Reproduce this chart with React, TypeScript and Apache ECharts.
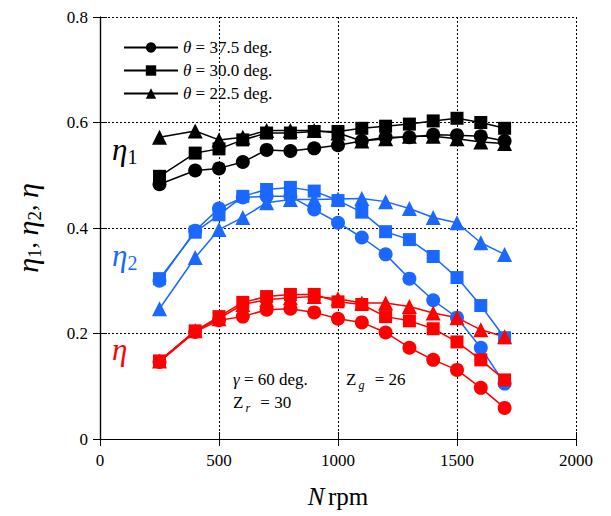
import React, { useEffect, useRef } from "react";
import * as echarts from "echarts";

const rpm = [250, 400, 500, 600, 700, 800, 900, 1000, 1100, 1200, 1300, 1400, 1500, 1600, 1700];
const angles = ["37.5", "30.0", "22.5"];

// eta1 (black)
const eta1_375 = [0.483, 0.509, 0.513, 0.525, 0.548, 0.546, 0.551, 0.557, 0.565, 0.572, 0.572, 0.577, 0.576, 0.574, 0.565];
const eta1_300 = [0.498, 0.542, 0.55, 0.567, 0.58, 0.58, 0.583, 0.583, 0.589, 0.593, 0.597, 0.603, 0.608, 0.6, 0.589];
const eta1_225 = [0.572, 0.584, 0.567, 0.572, 0.585, 0.585, 0.585, 0.58, 0.565, 0.569, 0.574, 0.574, 0.569, 0.563, 0.56];

// eta2 (blue)
const eta2_375 = [0.3, 0.395, 0.437, 0.458, 0.46, 0.46, 0.435, 0.41, 0.382, 0.35, 0.304, 0.263, 0.23, 0.173, 0.105];
const eta2_300 = [0.304, 0.392, 0.425, 0.46, 0.473, 0.477, 0.47, 0.452, 0.43, 0.393, 0.378, 0.346, 0.306, 0.253, 0.192];
const eta2_225 = [0.247, 0.344, 0.397, 0.42, 0.448, 0.454, 0.454, 0.455, 0.456, 0.45, 0.437, 0.42, 0.41, 0.372, 0.35];

// eta (red)
const eta_375 = [0.146, 0.203, 0.225, 0.232, 0.245, 0.247, 0.24, 0.228, 0.221, 0.202, 0.173, 0.15, 0.131, 0.097, 0.059];
const eta_300 = [0.148, 0.205, 0.232, 0.259, 0.27, 0.274, 0.274, 0.26, 0.255, 0.232, 0.224, 0.209, 0.184, 0.15, 0.112];
const eta_225 = [0.148, 0.205, 0.228, 0.255, 0.264, 0.268, 0.27, 0.266, 0.258, 0.258, 0.251, 0.239, 0.23, 0.207, 0.194];

const FONT = "'Liberation Serif', 'Times New Roman', serif";
const BLACK = "#000000";
const BLUE = "#1a68ff";
const RED = "#ff0000";
const symbols = ["circle", "rect", "triangle"];
const symbolSizes = [14, 13, 15];

const App = () => {
  const ref = useRef<HTMLDivElement>(null);

  useEffect(() => {
    document.body.style.margin = "0";
    const chart = echarts.init(ref.current, null, { renderer: "svg" });

    const mk = (name: string, vals: number[], color: string, i: number) => ({
      name,
      type: "line",
      data: rpm.map((x, k) => [x, vals[k]]),
      symbol: symbols[i],
      symbolSize: symbolSizes[i],
      showSymbol: true,
      lineStyle: { color, width: 1.5 },
      itemStyle: { color },
      z: 3
    });

    const groups = [
      { vals: [eta1_375, eta1_300, eta1_225], color: BLACK, prefix: "" },
      { vals: [eta2_375, eta2_300, eta2_225], color: BLUE, prefix: "b" },
      { vals: [eta_375, eta_300, eta_225], color: RED, prefix: "r" }
    ];
    const series: any[] = [];
    groups.forEach(g => {
      g.vals.forEach((v, i) => series.push(mk(g.prefix + angles[i], v, g.color, i)));
    });

    const gridLine = { show: true, lineStyle: { color: "#000", type: [2, 2], width: 1 } };
    const axisLine = { show: true, lineStyle: { color: "#000", width: 1.2 } };
    const tick = { show: true, inside: true, length: 7, lineStyle: { color: "#000" } };
    const sub = (fill: string) => ({
      t: { fontFamily: FONT, fontSize: 17, fill, lineHeight: 22, verticalAlign: "middle" },
      s: { fontFamily: FONT, fontSize: 12, fontStyle: "italic", fill, lineHeight: 6, verticalAlign: "bottom", padding: [0, 6, 0, 2] }
    });
    const etaLabel = (fill: string) => ({
      e: { fontFamily: FONT, fontSize: 31, fontStyle: "italic", fill, lineHeight: 34, verticalAlign: "middle" },
      s: { fontFamily: FONT, fontSize: 20, fill, lineHeight: 8, verticalAlign: "bottom" }
    });

    chart.setOption({
      animation: false,
      backgroundColor: "#fff",
      grid: { left: 100, top: 17, right: 35, bottom: 77 },
      legend: {
        data: angles,
        orient: "vertical",
        left: 118,
        top: 34,
        itemWidth: 54,
        itemHeight: 13,
        itemGap: 6,
        selectedMode: false,
        formatter: (n: string) => `{i|θ}{t| = ${n} deg.}`,
        textStyle: {
          fontFamily: FONT,
          fontSize: 17,
          color: "#000",
          rich: {
            i: { fontFamily: FONT, fontSize: 17, fontStyle: "italic", color: "#000" },
            t: { fontFamily: FONT, fontSize: 17, color: "#000" }
          }
        }
      },
      xAxis: [
        {
          type: "value",
          min: 0,
          max: 2000,
          interval: 500,
          axisLine,
          axisTick: tick,
          splitLine: gridLine,
          axisLabel: { fontFamily: FONT, fontSize: 17, color: "#000", margin: 13, formatter: (v: number) => String(v) },
          name: "{n|N} {r|rpm}",
          nameLocation: "middle",
          nameGap: 45,
          nameTextStyle: {
            rich: {
              n: { fontFamily: FONT, fontSize: 25, fontStyle: "italic", color: "#000" },
              r: { fontFamily: FONT, fontSize: 25, color: "#000" }
            }
          }
        },
        {
          type: "value",
          position: "top",
          min: 0,
          max: 2000,
          interval: 500,
          axisLine,
          axisTick: tick,
          splitLine: { show: false },
          axisLabel: { show: false }
        }
      ],
      yAxis: [
        {
          type: "value",
          min: 0,
          max: 0.8,
          interval: 0.2,
          axisLine,
          axisTick: tick,
          splitLine: gridLine,
          axisLabel: { fontFamily: FONT, fontSize: 17, color: "#000", margin: 12 },
          name: "{e|η}{s|1}{c|, }{e|η}{s|2}{c|, }{e|η}",
          nameLocation: "middle",
          nameGap: 56,
          nameTextStyle: {
            rich: {
              e: { fontFamily: FONT, fontSize: 30, fontStyle: "italic", color: "#000", lineHeight: 34, verticalAlign: "middle" },
              s: { fontFamily: FONT, fontSize: 19, color: "#000", lineHeight: 12, verticalAlign: "bottom" },
              c: { fontFamily: FONT, fontSize: 26, color: "#000", lineHeight: 34, verticalAlign: "middle" }
            }
          }
        },
        {
          type: "value",
          position: "right",
          min: 0,
          max: 0.8,
          interval: 0.2,
          axisLine,
          axisTick: tick,
          splitLine: { show: false },
          axisLabel: { show: false }
        }
      ],
      graphic: [
        { type: "text", left: 112, top: 134, style: { text: "{e|η}{s|1}", rich: etaLabel("#000") } },
        { type: "text", left: 112, top: 240, style: { text: "{e|η}{s|2}", rich: etaLabel(BLUE) } },
        { type: "text", left: 112, top: 334, style: { text: "{e|η}", rich: etaLabel(RED) } },
        {
          type: "text",
          left: 233,
          top: 371,
          style: {
            text: "{i|γ}{t| = 60 deg.}",
            rich: {
              i: { fontFamily: FONT, fontSize: 17, fontStyle: "italic", fill: "#000", lineHeight: 22 },
              t: { fontFamily: FONT, fontSize: 17, fill: "#000", lineHeight: 22 }
            }
          }
        },
        { type: "text", left: 346, top: 371, style: { text: "{t|Z}{s|g}{t| = 26}", rich: sub("#000") } },
        { type: "text", left: 233, top: 394, style: { text: "{t|Z}{s|r}{t| = 30}", rich: sub("#000") } }
      ],
      series
    });

    return () => {
      chart.dispose();
    };
  }, []);

  return <div ref={ref} style={{ width: 611, height: 516 }}></div>;
};

export default App;
